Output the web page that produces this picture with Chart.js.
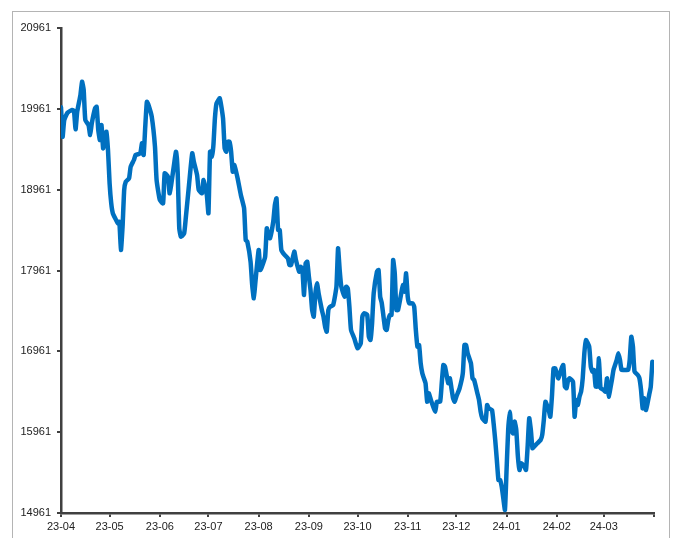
<!DOCTYPE html>
<html>
<head>
<meta charset="utf-8">
<script src="https://cdn.jsdelivr.net/npm/chart.js@4.4.1/dist/chart.umd.min.js"></script>
<style>
  html, body { margin:0; padding:0; background:#fff; }
  #wrap { position:relative; width:673px; height:538px; overflow:hidden; }
  #frame { position:absolute; left:12px; top:11px; width:658px; height:540px; border:1px solid #b4b4b4; box-sizing:border-box; }
  canvas { position:absolute; left:0; top:0; }
</style>
</head>
<body>
<div id="wrap">
  <div id="frame"></div>
  <canvas id="c" width="673" height="538"></canvas>
</div>
<script>
// Days since 2023-04-01
const days = [
  0,1,2,4,7,8,9,10,12,13,
  14,15,17,18,19,21,22,23,24,25,
  26,27,28,29,30,31,32,34,35,36,
  37,38,39,40,42,43,45,46,48,49,
  50,51,52,53,54,56,58,59,61,63,
  64,66,67,68,70,71,72,73,74,76,
  77,79,81,82,84,85,87,88,90,91,
  92,93,94,95,96,98,100,101,102,103,
  104,105,106,107,109,111,113,114,115,117,
  118,119,120,122,123,124,126,127,128,129,
  131,132,133,134,135,136,138,140,141,142,
  144,145,147,148,149,150,151,152,153,154,
  155,156,157,158,159,161,162,163,164,165,
  166,168,170,171,172,173,175,176,177,178,
  179,181,183,185,186,187,189,190,191,192,
  193,195,196,197,198,200,201,202,203,204,
  205,206,207,208,210,211,212,213,214,215,
  217,218,219,220,221,222,223,224,225,226,
  227,228,229,231,232,234,235,236,237,238,
  239,240,241,242,243,244,246,248,249,250,
  251,253,254,255,257,258,259,260,262,263,
  264,266,267,268,269,270,271,272,273,274,
  275,276,277,278,279,280,281,282,283,284,
  286,287,288,289,290,291,292,294,296,297,
  298,299,301,302,303,304,305,306,307,309,
  310,311,312,313,314,316,317,318,319,320,
  321,322,323,324,326,327,328,329,330,331,
  332,333,335,336,337,338,340,341,343,344,
  345,346,348,350,351,352,353,354,356,357,
  358,359,360,361,362,363,364,365
];
const values = [
  19980,19616,19823,19913,19947,19938,19708,19926,20132,20297,
  20194,19823,19761,19637,19782,19968,19987,19699,19575,19761,
  19473,19616,19678,19452,19040,18792,18669,18586,18545,18565,
  18215,18503,18957,19060,19102,19245,19328,19390,19402,19411,
  19535,19390,19740,20049,20008,19864,19493,19081,18833,18792,
  19164,19121,18916,19019,19307,19431,19183,18483,18379,18421,
  18607,19019,19411,19307,19142,18957,18916,19081,18895,18669,
  19431,19369,19493,19844,20029,20091,19844,19473,19431,19554,
  19554,19431,19183,19266,19102,18895,18730,18338,18317,18070,
  17782,17617,17822,18215,17967,18008,18132,18483,18379,18359,
  18565,18771,18854,18462,18462,18215,18153,18112,18029,18029,
  18194,18091,17946,18008,17967,17658,18050,18070,17884,17720,
  17472,17390,17679,17803,17679,17472,17390,17266,17204,17472,
  17513,17534,17761,18236,17967,17761,17637,17761,17741,17513,
  17225,17122,16999,17060,17390,17432,17411,17142,17101,17308,
  17679,17946,17967,17637,17555,17246,17225,17349,17411,17411,
  18091,17926,17472,17472,17679,17782,17699,17926,17637,17555,
  17555,17513,17225,17018,17039,16813,16689,16627,16566,16338,
  16442,16380,16318,16214,16338,16338,16566,16792,16771,16668,
  16566,16627,16504,16380,16338,16400,16504,16689,17039,17039,
  16937,16813,16627,16606,16442,16359,16214,16133,16091,16297,
  16256,16235,16071,15864,15617,15369,15369,15286,15143,14998,
  15493,15988,16214,15988,15947,16091,15988,15658,15493,15576,
  15534,15493,15781,16133,15988,15761,15781,15823,15864,15926,
  16112,16338,16235,16152,16400,16751,16751,16689,16627,16751,
  16792,16523,16504,16606,16627,16585,16152,16359,16297,16400,
  16462,16627,16937,17101,17018,16771,16709,16730,16524,16524,
  16875,16504,16483,16462,16627,16400,16606,16730,16854,16937,
  16854,16730,16730,16730,16854,17142,17018,16709,16668,16627,
  16483,16256,16380,16235,16318,16421,16524,16833
];
const xTickDays = [0,30,61,91,122,153,183,214,244,275,306,335,366];
const xTickLabels = ['23-04','23-05','23-06','23-07','23-08','23-09','23-10','23-11','23-12','24-01','24-02','24-03',''];
const yTicks = [14961,15961,16961,17961,18961,19961,20961];

const points = days.map((d, i) => ({ x: d, y: values[i] }));
const axisColor = '#404040';
const fontSpec = { family: "'Liberation Sans', Arial, sans-serif", size: 11 };

new Chart(document.getElementById('c'), {
  type: 'line',
  data: {
    datasets: [{
      data: points,
      borderColor: '#0070c0',
      borderWidth: 4.5,
      pointRadius: 0,
      tension: 0.15,
      borderJoinStyle: 'round',
      borderCapStyle: 'round',
      fill: false
    }]
  },
  options: {
    responsive: false,
    animation: false,
    devicePixelRatio: 1,
    layout: { padding: { top: 28, right: 19, bottom: 0, left: 0 } },
    plugins: { legend: { display: false }, tooltip: { enabled: false } },
    scales: {
      x: {
        type: 'linear',
        min: xTickDays[0],
        max: xTickDays[xTickDays.length - 1],
        afterBuildTicks: s => { s.ticks = xTickDays.map(v => ({ value: v })); },
        afterFit: s => { s.height = 25; },
        grid: { drawOnChartArea: false, drawTicks: true, tickLength: 4, color: axisColor, lineWidth: 2 },
        border: { display: true, color: axisColor, width: 2.5 },
        ticks: {
          autoSkip: false, maxRotation: 0, minRotation: 0, padding: 3,
          font: fontSpec, color: '#222',
          callback: (v, i) => xTickLabels[i]
        }
      },
      y: {
        type: 'linear',
        min: yTicks[0],
        max: yTicks[yTicks.length - 1],
        afterBuildTicks: s => { s.ticks = yTicks.map(v => ({ value: v })); },
        afterFit: s => { s.width = 61; },
        grid: { drawOnChartArea: false, drawTicks: true, tickLength: 4, color: axisColor, lineWidth: 2 },
        border: { display: true, color: axisColor, width: 2.5 },
        ticks: {
          padding: 6, font: fontSpec, color: '#222',
          callback: v => String(v)
        }
      }
    }
  }
});
</script>
</body>
</html>
